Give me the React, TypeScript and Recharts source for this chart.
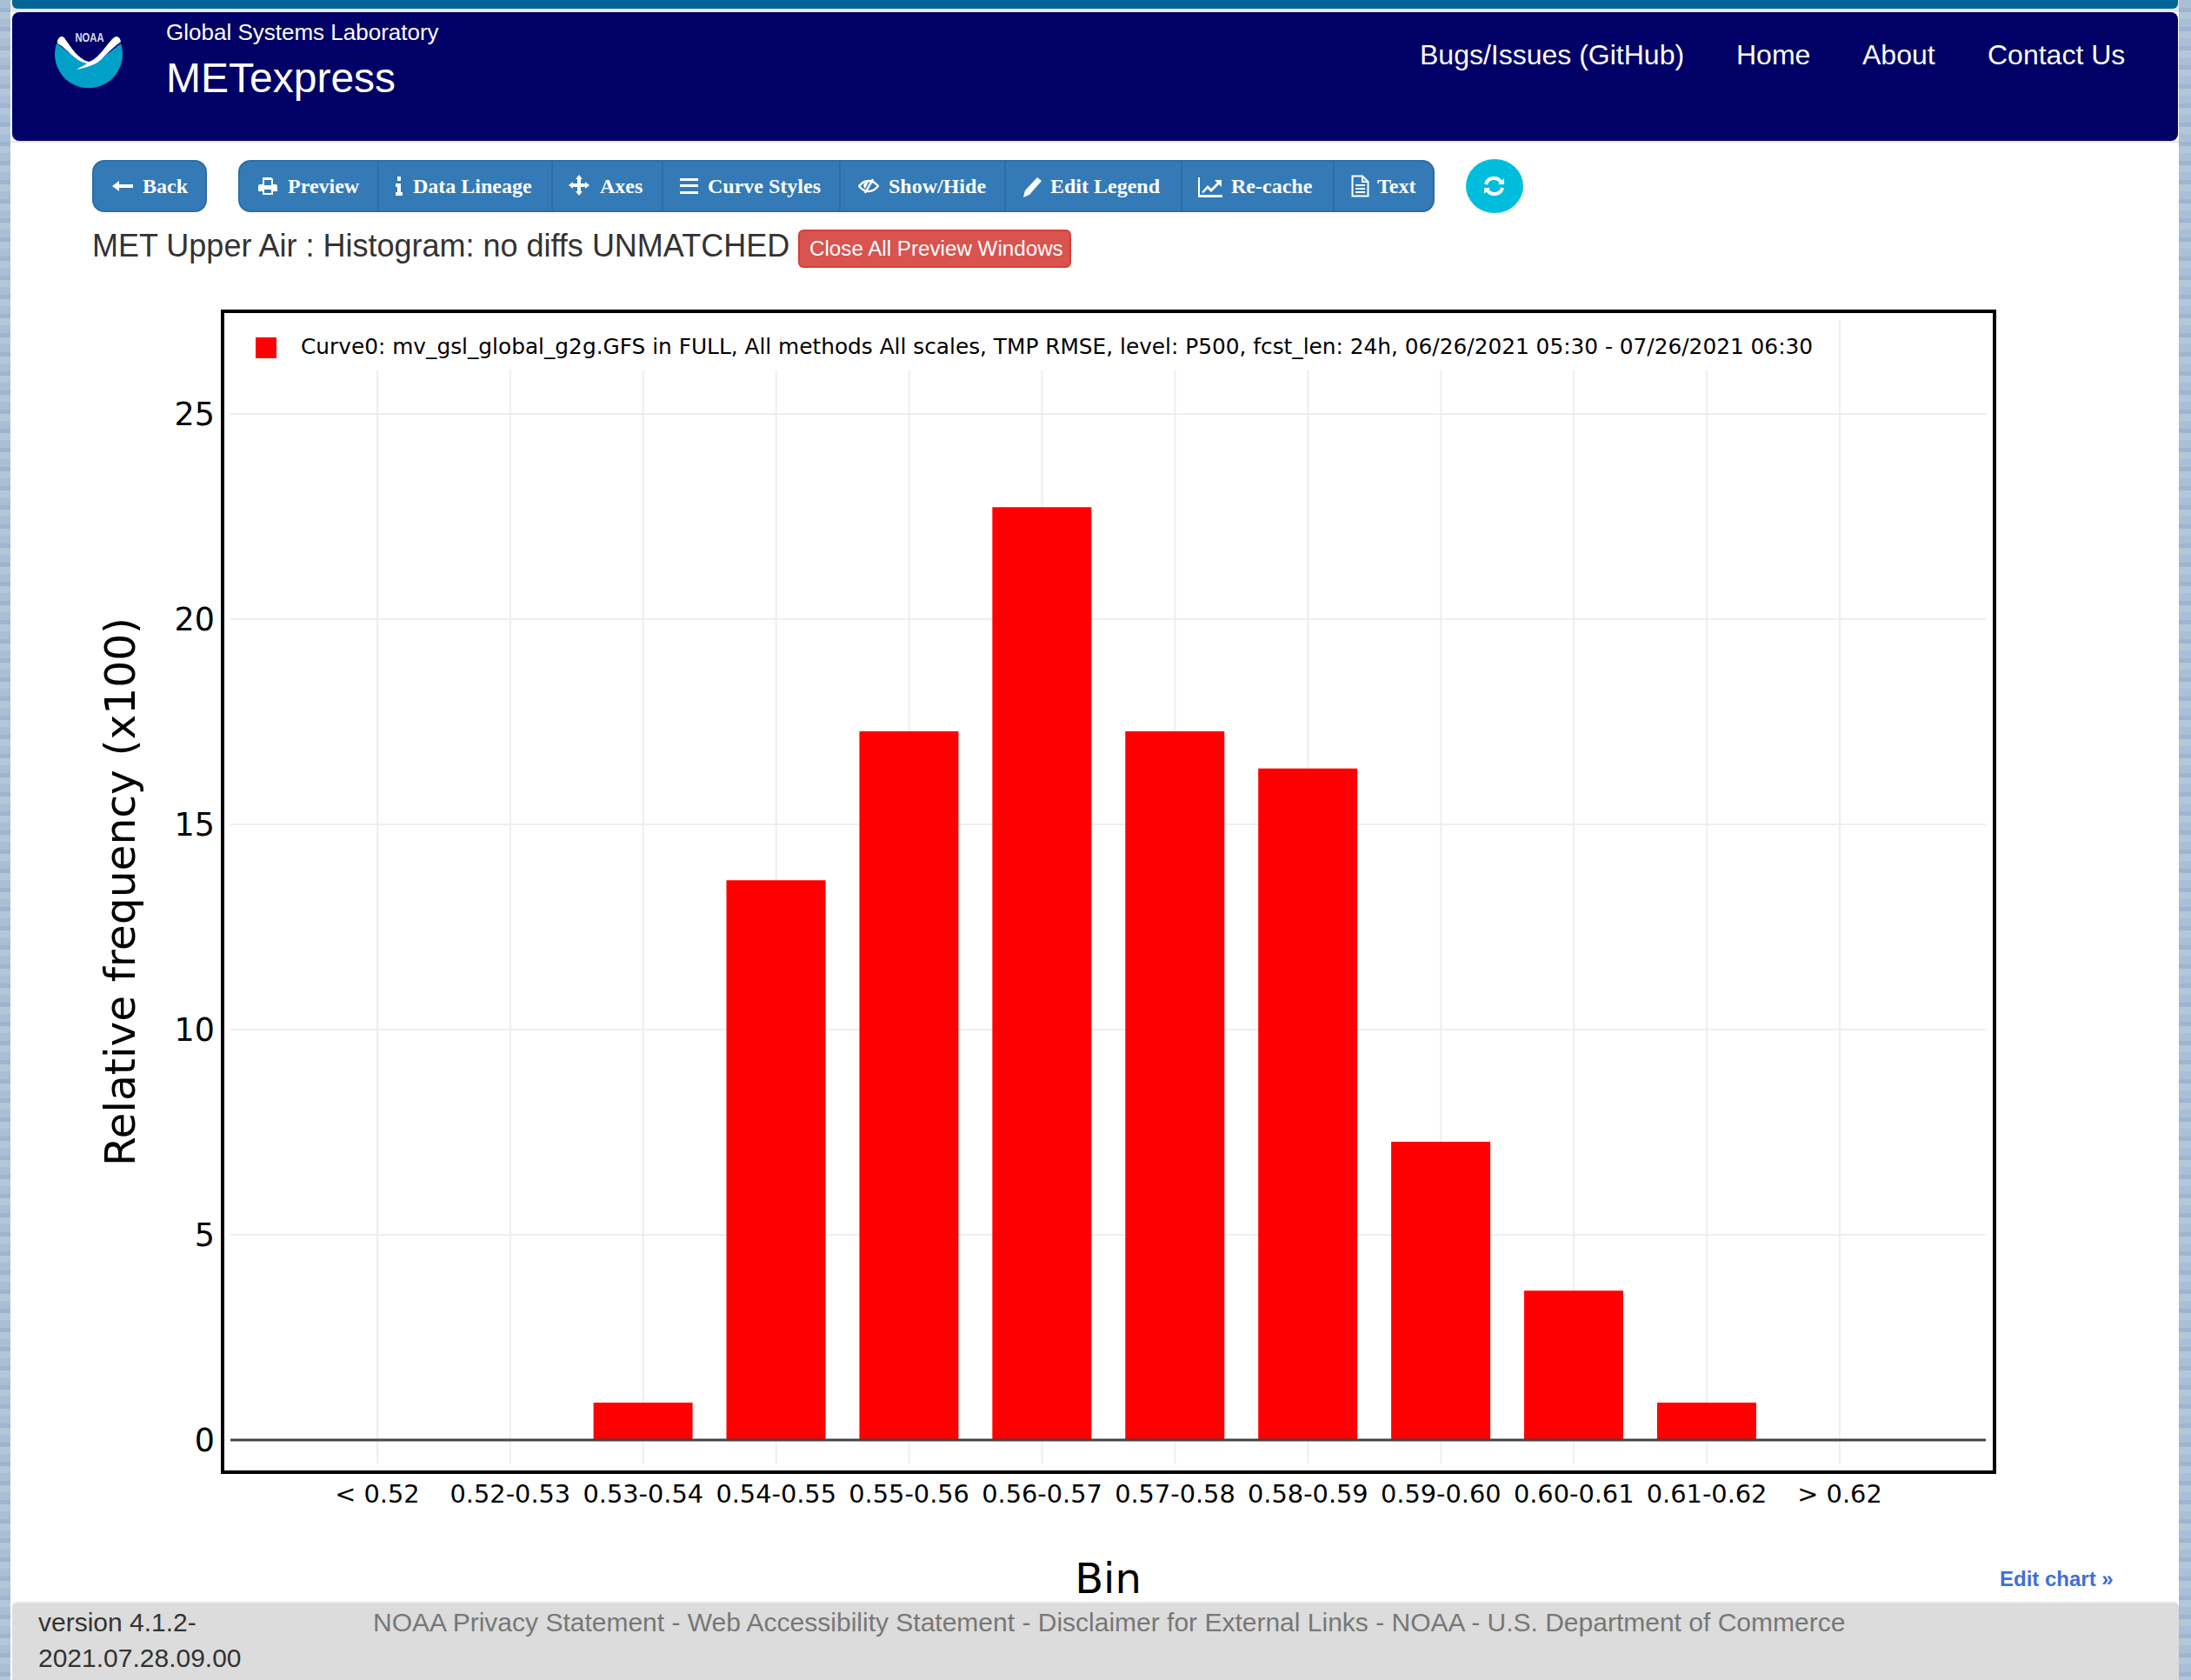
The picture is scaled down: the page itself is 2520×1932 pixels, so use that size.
import React from 'react';
import { BarChart, Bar, XAxis, YAxis, CartesianGrid, Legend, ReferenceLine } from 'recharts';

const bins = ['< 0.52','0.52-0.53','0.53-0.54','0.54-0.55','0.55-0.56','0.56-0.57','0.57-0.58','0.58-0.59','0.59-0.60','0.60-0.61','0.61-0.62','> 0.62'];
const freq = [0,0,0.91,13.64,17.27,22.73,17.27,16.36,7.27,3.64,0.91,0];
const yTicks = [0,5,10,15,20,25];
const legendLabel = 'Curve0: mv_gsl_global_g2g.GFS in FULL, All methods All scales, TMP RMSE, level: P500, fcst_len: 24h, 06/26/2021 05:30 - 07/26/2021 06:30';
const navLinks: [string, number][] = [['Bugs/Issues (GitHub)',1633],['Home',1997],['About',2142],['Contact Us',2286]];
const toolLabels: [string, number][] = [['Preview',331],['Data Lineage',475],['Axes',690],['Curve Styles',814],['Show/Hide',1022],['Edit Legend',1208],['Re-cache',1416],['Text',1584]];
const dividers = [434,634,761,965,1155,1358,1533];

const data = bins.map((bin, i) => ({ bin, freq: freq[i] }));
const SANS = '"Liberation Sans", Arial, sans-serif';
const SERIF = '"Liberation Serif", serif';
const DJ = '"DejaVu Sans", sans-serif';

function T({ x, cy, size, color, font = SANS, bold = false, children }: any) {
  return <div style={{ position: 'absolute', left: x, top: cy - size, lineHeight: `${size * 2}px`, fontSize: size, color, fontFamily: font, fontWeight: bold ? 700 : 400, whiteSpace: 'nowrap' }}>{children}</div>;
}
function Box({ x, y, w, h, style }: any) {
  return <div style={{ position: 'absolute', left: x, top: y, width: w, height: h, boxSizing: 'border-box', ...style }} />;
}
function Icon({ x, y, w, h, vb, children }: any) {
  return <svg style={{ position: 'absolute', left: x, top: y }} width={w} height={h} viewBox={vb}>{children}</svg>;
}
const stripes = 'repeating-linear-gradient(180deg,#a9bfd6 0px,#a9bfd6 9px,#9db5d0 9px,#9db5d0 14px,#b3c6da 14px,#b3c6da 22px)';

export default function App() {
  return (
    <div style={{ position: 'absolute', left: 0, top: 0, width: 2520, height: 1932, overflow: 'hidden', background: '#fff' }}>
      <Box x={0} y={0} w={12} h={1932} style={{ background: stripes }} />
      <Box x={2506} y={0} w={14} h={1932} style={{ background: stripes }} />
      <Box x={12} y={0} w={2494} h={14} style={{ background: '#e7e7e7' }} />
      <Box x={14} y={-8} w={2491} h={18} style={{ background: '#006699', borderRadius: 6 }} />
      <Box x={14} y={14} w={2491} h={148} style={{ background: '#000066', borderRadius: 8 }} />
      <Box x={12} y={162} w={2494} h={2} style={{ background: '#e7e7e7' }} />

      <Icon x={60} y={20} w={84} h={86} vb="60 20 84 86">
        <path d="M65 50 A39 39 0 1 0 139 50 C125 60 115 72 100 72 C90 72 78 58 65 50 Z" fill="#00a0c8" />
        <path d="M66 47 C68 42 72 40 75 45 C82 55 90 68 102 71 C112 69 122 52 130 44 C134 40 138 42 139 48 C125 58 118 68 112 72 C104 76 98 78 88 80 C92 77 98 75 100 73 C85 70 78 56 66 50 Z" fill="#fff" />
        <text x="103" y="48" textAnchor="middle" fontFamily={SANS} fontWeight="700" fontSize="15" fill="#dcdcf0" textLength="33" lengthAdjust="spacingAndGlyphs">NOAA</text>
      </Icon>
      <T x={191} cy={37} size={26} color="#fff">Global Systems Laboratory</T>
      <T x={191} cy={90} size={48} color="#fff">METexpress</T>
      {navLinks.map(([t, x]) => <T key={t} x={x} cy={63} size={32} color="#fff">{t}</T>)}

      <Box x={106} y={184} w={132} h={60} style={{ background: '#337ab7', border: '2px solid #2e6da4', borderRadius: 14 }} />
      <Box x={274} y={184} w={1376} h={60} style={{ background: '#337ab7', border: '2px solid #2e6da4', borderRadius: 14 }} />
      {dividers.map((x) => <Box key={x} x={x} y={186} w={2} h={56} style={{ background: '#2e6da4' }} />)}
      <T x={164} cy={214} size={24} color="#fff" font={SERIF} bold>Back</T>
      {toolLabels.map(([t, x]) => <T key={t} x={x} cy={214} size={24} color="#fff" font={SERIF} bold>{t}</T>)}
      <Icon x={129} y={206} w={24} h={16} vb="0 0 24 16"><path d="M0 8 L8 2 V6 H24 V10 H8 V14 Z" fill="#fff" /></Icon>
      <Icon x={297} y={203} w={22} h={22} vb="0 0 22 22"><path d="M5 1 H15 L17 3 V9 H20 Q22 9 22 11 V17 H17 V21 H5 V17 H0 V11 Q0 9 2 9 H5 Z M7 3 V10 H15 V4 H7 Z M7 15 V19 H15 V15 Z" fill="#fff" fillRule="evenodd" /></Icon>
      <Icon x={455} y={203} w={8} h={22} vb="0 0 8 22"><path d="M2 0 H6 V5 H2 Z M0 8 H6 V18 H8 V22 H0 V18 H2 V12 H0 Z" fill="#fff" /></Icon>
      <Icon x={654} y={201} w={24} h={24} vb="0 0 24 24"><path d="M12 0 L16 5 H14 V10 H19 V8 L24 12 L19 16 V14 H14 V19 H16 L12 24 L8 19 H10 V14 H5 V16 L0 12 L5 8 V10 H10 V5 H8 Z" fill="#fff" /></Icon>
      <Icon x={782} y={205} w={21} h={18} vb="0 0 21 18"><path d="M0 0 H21 V3 H0 Z M0 7 H21 V10 H0 Z M0 15 H21 V18 H0 Z" fill="#fff" /></Icon>
      <Icon x={987} y={205} w={24} h={18} vb="0 0 24 18">
        <path d="M1 9 Q6 3 12 3 Q18 3 23 9 Q18 15 12 15 Q6 15 1 9 Z" fill="none" stroke="#fff" strokeWidth="2.5" />
        <path d="M17 1 L8 17" stroke="#fff" strokeWidth="2.5" />
        <path d="M12 4 L8 12 Q5 9 7 6 Q9 4 12 4 Z" fill="#fff" />
      </Icon>
      <Icon x={1177} y={204} w={21} h={23} vb="0 0 21 23"><path d="M16 0 L21 4 L7 20 L0 23 L2 15 Z" fill="#fff" /></Icon>
      <Icon x={1378} y={204} w={28} h={23} vb="0 0 28 23"><path d="M0 0 H2 V20 H28 V23 H0 Z M4 17 L11 9 L15 13 L22 6 L19 3 H27 V11 L24 8 L15 17 L11 13 L6 18 Z" fill="#fff" /></Icon>
      <Icon x={1554} y={201} w={21} h={26} vb="0 0 21 26"><path d="M1.5 1.5 H13 L19.5 8 V24.5 H1.5 Z M13 1.5 V8 H19.5 M5 12 H16 M5 16 H16 M5 20 H16" fill="none" stroke="#fff" strokeWidth="2" /></Icon>

      <Box x={1686} y={183} w={66} h={62} style={{ background: '#00bcdd', borderRadius: '50%' }} />
      <Icon x={1706} y={203} w={25} h={22} vb="0 0 25 22">
        <path d="M3 9 A9.5 9.5 0 0 1 20 6 M22 13 A9.5 9.5 0 0 1 5 16" fill="none" stroke="#fff" strokeWidth="4" />
        <path d="M17 9 H24 V2 Z M8 13 H1 V20 Z" fill="#fff" />
      </Icon>

      <T x={106} cy={283} size={36} color="#333">MET Upper Air : Histogram: no diffs UNMATCHED</T>
      <Box x={918} y={264} w={314} h={44} style={{ background: '#d9534f', border: '2px solid #d43f3a', borderRadius: 6 }} />
      <T x={931} cy={286} size={24.2} color="#fff">Close All Preview Windows</T>

      <div style={{ position: 'absolute', left: 0, top: 0 }}>
        <BarChart width={2520} height={1932} data={data} barCategoryGap="12.6%" margin={{ top: 368, right: 236, bottom: 49, left: 11 }}>
          <CartesianGrid stroke="#eeeeee" strokeWidth={2} syncWithTicks />
          <XAxis dataKey="bin" interval={0} height={200} padding={{ left: 92.5, right: 91.5 }} axisLine={false} tickLine={false} tickSize={0} tickMargin={25}
            tick={{ fontFamily: DJ, fontSize: 28.8, fill: '#000' }}
            label={{ value: 'Bin', position: 'insideBottom', offset: 51, style: { fontFamily: DJ, fontSize: 48, fill: '#000' } }} />
          <YAxis type="number" domain={[-0.572, 27.29]} ticks={yTicks} width={254} axisLine={false} tickLine={false} tickSize={0} tickMargin={18}
            tick={{ fontFamily: DJ, fontSize: 36.5, fill: '#000' }}
            label={{ value: 'Relative frequency (x100)', angle: -90, position: 'center', style: { fontFamily: DJ, fontSize: 48.7, fill: '#000' } }} />
          <Legend layout="horizontal" verticalAlign="middle" align="center" iconType="square" iconSize={24}
            wrapperStyle={{ left: 276, top: 368, width: 'max-content', height: 58, boxSizing: 'border-box', padding: '13px 18px 0 18px', background: '#fff', bottom: 'auto' }}
            formatter={(v: string) => <span style={{ color: '#000', fontFamily: DJ, fontSize: 24.8, marginLeft: 24, position: 'relative', top: 3 }}>{v}</span>} />
          <Bar dataKey="freq" name={legendLabel} fill="#ff0000" isAnimationActive={false} />
          <ReferenceLine y={0} stroke="#444444" strokeWidth={3} />
        </BarChart>
      </div>

      <Box x={254} y={356} w={2042} h={1339} style={{ border: '4px solid #000', pointerEvents: 'none' }} />

      <T x={2300} cy={1816} size={24} color="#3f6fd8" bold>Edit chart »</T>
      <Box x={14} y={1842} w={2492} h={90} style={{ background: '#dcdcdc', borderRadius: '6px 6px 0 0', borderTop: '2px solid #e6e6e6' }} />
      <T x={44} cy={1866} size={30} color="#333">version 4.1.2-</T>
      <T x={44} cy={1907} size={30} color="#333">2021.07.28.09.00</T>
      <T x={429} cy={1866} size={30} color="#777">NOAA Privacy Statement - Web Accessibility Statement - Disclaimer for External Links - NOAA - U.S. Department of Commerce</T>
    </div>
  );
}
